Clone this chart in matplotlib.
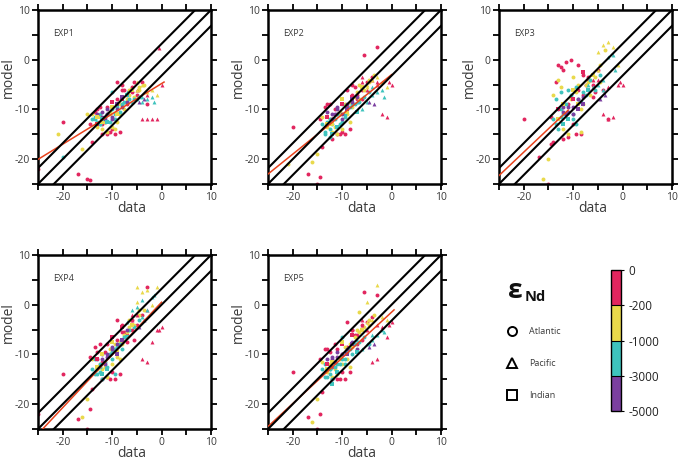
import numpy as np
import matplotlib
matplotlib.use("Agg")
import matplotlib.pyplot as plt
from matplotlib.colors import ListedColormap, BoundaryNorm
from matplotlib.colorbar import ColorbarBase

plt.rcParams['font.family'] = ['Open Sans', 'DejaVu Sans']
plt.rcParams['axes.unicode_minus'] = False

# shared observations (x axis), water-depth class and basin for every point
data_x = [-14, -13.5, -13, -12.5, -12, -13, -12, -11, -10, -14,
          -13, -12, -11, -10, -9, -14.5, -13.5, -12.5, -11.5, -10.5,
          -9.5, -8.5, -11, -10, -9, -8, -7, -6, -8, -7,
          -12, -11, -10, -9, -8, -10, -9, -8, -7, -6,
          -13, -12, -6, -5, -4, -3, -2, -1, -5, -4,
          -3, -2, -5, -4, -3, -2, -4.5, -3.5, -6, -7,
          -0.5, 0, -1, -1.5, -25, -20, -17, -15, -14.5, -21,
          -20, -16, -15, -14, -12, -11, -9, -8, -10, -13,
          -7.5, -6.5, -5.5, -4.5, -11.5, -12.5, -9.5, -8.5, -10.5, -3,
          -13, -12, -11, -10, -9, -8, -7, -6, -5, -4,
          -12.5, -11.5, -10.5, -9.5, -8.5, -7.5, -6.5, -5.5, -4.5, -3.5,
          -13.5, -12.5, -11.5, -10.5, -9.5, -8.5, -7.5, -6.5, -5.5, -4.5,
          -12, -11, -10, -9, -8, -7, -6, -5, -4, -3]
depth = list("cccccppppy" "yyyyyrrrrr" "rrccccrryy" "ccyyrrppcy"
             "ryrrrrrryy" "yyccccppcc" "rrycrrrrry" "cyyrrrrrcy"
             "ryrypccyyr" "rrrrrrrrrr" "yyyyyyyyyy" "cccccccccc"
             "pppppprycr")
basin = (['o'] * 30 + ['s'] * 12 + ['^'] * 22 + ['o'] * 15 + ['s']
         + ['o'] * 46 + ['^'] * 4)

nan = np.nan
exp1 = [-12, -11.5, -12.5, -11, -12, -11, -10.5, -10, -11.5, -11,
        -13.5, -14, -14.5, -13.5, -12.5, -13, -10.5, -9.5, -12.5, -14.5,
        -15, -14.5, -11, -10, -9.5, -9, -7, -6.5, -9, -8,
        -12, -12.5, -9.5, -11, -8, -8.5, -9, -7.5, -7, -6,
        -13, -12.5, -5.5, -6, -12, -12, -12, -12, -6, -5,
        -6.5, -6, -8, -8.5, -8, -7.5, -8.5, -8, -8.5, -6.5,
        2.3, -5, -7, -8.5, -22, -12.5, -23, -24, -24.2, -15,
        -19.5, -18, -11, -16.5, -15, -15, -4.5, -5, -6.5, -11.5,
        -6, -7, -4.5, -5.5, -12, -13, -12, -11, -11, -9,
        -10, -13, -9.5, -14, -8, -6, -9, -5.5, -7, -4.5,
        -11.5, -12.5, -10.5, -14, -9, -10, -6, -7.5, -6, -5,
        -12, -13, -11.5, -12.5, -11, -10.5, -8.5, -8, -8, -7.5,
        -11.5, -11, -12, -10, -9.5, -8.5, -6, -4.5, -7.5, -7]
exp2 = [-13, -14.5, -12.5, -15.5, -13, -10.5, -11, -9.5, -12, -11.5,
        -13.5, -14.5, -15, -14, -11, -12, -9.5, -9, -10, -15,
        -15, -14, -11, -12.5, -10, -9, -7, -8, -9.5, -6.5,
        -15, -13.5, -8, -10.5, -7.5, -9, -10, -8, -10.5, -5.5,
        -11.5, -13, -4.5, -6, -4, -5, -11, -11.5, -5, -4,
        -3.5, -4.5, -8.5, -7, -6.5, -6, -8.5, -9, -10, -8.5,
        -4.5, -5, -5.5, -7.5, -24.5, -13.5, -23, -25, -23.5, -21,
        nan, -20.5, -19, -17.5, -16, -15, -6, -7, -9, -13,
        -5.5, -8, 1, -4.5, -11, -12, -11, -12.5, -10.5, 2.5,
        -9, -12, -11, -14.5, -9.5, -5, -8, -6, -4.5, -3.5,
        -12, -13.5, -11, -9, -8.5, -7.5, -5, -6, -4, -3,
        -15, -14, -12, -13, -11.5, -9.5, -9, -8.5, -7.5, -6.5,
        -12, -10, -11, -9, -8.5, -7.5, -3.5, -5.5, -5.5, -4.5]
exp3 = [-12, -8, -14, -6.5, -11, -10, -9.5, -10.5, -9.5, -7,
        -4, -14, -15, -3.5, -5, -11.5, -4.5, -1.5, -0.5, 0,
        -15, -15, -6, -12, -8, -6.5, -3.5, -7.5, -9, -4.5,
        -13, -12, -6, -9, -2.5, -8, -10, -9, -6, -3,
        -10, -9, -5.5, -4, -11, -12, -11.5, -5, 1.5, 3,
        3.5, 2.5, -5, -6, 0.5, 1, -8, -7, -5.5, -5,
        -4.5, -5, -1, -2, nan, -12, -19.5, -25, -17, nan,
        nan, -24, -20, -16.5, -16, -15.5, -1, -3, -11, -12,
        -5, -4, -6.5, -1, -11, -10, -13, -14.5, -7.5, -12,
        -1, -2, -9, -13, -6, -7, -4, -5, -2, -6,
        -5.5, -11, -8, -6.5, -10, -5, -7, -3.5, -4.5, 2,
        -13, -11.5, -9, -7, -5.5, -8.5, -7, -4, -6, -3,
        -10.5, -9.5, -11, -8, -7.5, -6, -4, -2, -4, -5.5]
exp4 = [-13, -11, -14, -12, -15, -11, -10, -10.5, -9, -11,
        -13, -13, -14.5, -12, -10.5, -10.5, -8.5, -8, -9.5, -15,
        -15, -14, -12.5, -11, -8.5, -9, -6, -5, -8, -5.5,
        -14, -13, -7.5, -9.5, -4.5, -6.5, -10, -7, -6.5, -4,
        -11, -10, -3, -2, -11, -11.5, -7.5, -5, 3.5, 2.5,
        3, 0, -0.5, 1, -1, 1.5, -4.5, -3, -1, -3.5,
        -5, -4.5, 3.5, 2, -22, -14, -23, -25, -21, nan,
        nan, -22.5, -19, -17, -15, -14.5, -3, -4, -9.5, -12.5,
        -5.5, -3, -7, -1, -12, -12.5, -14, -11, -9, 3.5,
        -9.5, -11.5, -8, -13.5, -7, -5.5, -7.5, -3, -4, -2,
        -12, -12.5, -10, -8, -7.5, -6, -4.5, -4, -2, -1,
        -14, -13.5, -11.5, -10, -9, -8, -6.5, -5, -4.5, -3,
        -11, -10, -8.5, -8, -7, -5, -2, 0.5, -2.5, -1]
exp5 = [-13, -12, -14.5, -13, -15, -11, -10.5, -9.5, -10, -11.5,
        -13.5, -14.5, -14, -12, -11, -11, -9, -9.5, -8, -15,
        -15, -13.5, -12, -11, -9.5, -10, -6, -7, -8.5, -5,
        -16, -13.5, -7.5, -10, -6, -8, -10, -8, -9.5, -5,
        -12, -11.5, -4, -5, -11.5, -11, -4.5, -6.5, 0.5, -3,
        4, -2.5, -8, -7, -6, -5, -8.5, -8, -9, -7,
        -4, -3.5, -3, -5.5, nan, -13.5, -22.5, -25, -22, nan,
        nan, -23.5, -19, -17.5, -15, -15, -3.5, -5, -6.5, -13,
        -6, -1.5, 2.5, -4, -11.5, -13, -12, -12.5, -10.5, 2,
        -9, -12.5, -9, -13.5, -8.5, -5, -8, -4, -3.5, -2.5,
        -12, -13, -11, -8.5, -8, -6.5, -5.5, -4.5, -3, -2,
        -14.5, -14, -12.5, -12, -11, -9, -8, -7.5, -6.5, -8,
        -11, -10.5, -10, -9, -7.5, -9, -3, -3.5, -6, -4]

exp_names = ['EXP1', 'EXP2', 'EXP3', 'EXP4', 'EXP5']
model_vals = [exp1, exp2, exp3, exp4, exp5]
# red regression lines
fit_slope = [0.61, 0.80, 0.94, 1.06, 0.92]
fit_icept = [-4.8, -3.0, 0.2, 0.5, -1.5]
fit_x0 = [-25, -25, -25, -24, -25]
fit_x1 = [0.5, 0, -11, 0, 0.5]
band = [-3.2, 0, 3.2]

depth_colors = {'r': '#e2265f', 'y': '#e9d94b', 'c': '#3ec3bd', 'p': '#7b3fa0'}
cbar_labels = ['-5000', '-3000', '-1000', '-200', '0']
basin_labels = ['Atlantic', 'Pacific', 'Indian']
basin_markers = ['o', '^', 's']

W, H = 681, 466
fig = plt.figure(figsize=(W / 100, H / 100), dpi=100)
boxes = [(38, 10), (268, 10), (499, 10), (38, 255), (268, 255)]
gray = '#3a3a3a'

x_arr = np.array(data_x)
for k in range(5):
    left, top = boxes[k]
    ax = fig.add_axes([left / W, 1 - (top + 174) / H, 173 / W, 174 / H])
    y_arr = np.array(model_vals[k], dtype=float)
    for mk in basin_markers:
        for ck, col in depth_colors.items():
            sel = np.array([(b == mk and d == ck) for b, d in zip(basin, depth)])
            if sel.any():
                ax.scatter(x_arr[sel], y_arr[sel], s=8, marker=mk, color=col,
                           linewidths=0, zorder=2)
    xx = np.array([fit_x0[k], fit_x1[k]])
    ax.plot(xx, fit_slope[k] * xx + fit_icept[k], color='#e8421c', lw=1.1, zorder=3)
    line = np.array([-30, 15])
    for off in band:
        ax.plot(line, line + off, color='black', lw=1.5, zorder=4)
    ax.set_xlim(-25, 10)
    ax.set_ylim(-25, 10)
    ax.set_xticks([-20, -10, 0, 10])
    ax.set_yticks([-20, -10, 0, 10])
    ax.set_xticks(np.arange(-25, 11, 5), minor=True)
    ax.set_yticks(np.arange(-25, 11, 5), minor=True)
    ax.tick_params(which='both', direction='out', length=4, width=1.3,
                   top=True, right=True, labelsize=7.5, labelcolor=gray, pad=2)
    for sp in ax.spines.values():
        sp.set_linewidth(1.8)
    ax.set_xlabel('data', fontsize=10, color=gray)
    ax.set_ylabel('model', fontsize=10, color=gray)
    ax.xaxis.set_label_coords(0.54, -0.095)
    ax.yaxis.set_label_coords(-0.13, 0.61)
    ax.text(0.087, 0.865, exp_names[k], transform=ax.transAxes, fontsize=6.5,
            color=gray, ha='left', va='center')

# colour bar for water depth
cax = fig.add_axes([611 / W, 1 - 411 / H, 10 / W, 141 / H])
cmap = ListedColormap([depth_colors['p'], depth_colors['c'], depth_colors['y'], depth_colors['r']])
norm = BoundaryNorm([0, 1, 2, 3, 4], cmap.N)
cb = ColorbarBase(cax, cmap=cmap, norm=norm, orientation='vertical', drawedges=True)
cb.set_ticks([0, 1, 2, 3, 4])
cb.set_ticklabels(cbar_labels)
cb.outline.set_linewidth(1.0)
cb.dividers.set_linewidth(0.8)
cax.tick_params(length=2.5, width=0.8, labelsize=8.5, labelcolor='#222222', pad=3)

# basin legend drawn in pixel space
lax = fig.add_axes([0, 0, 1, 1])
lax.set_xlim(0, W)
lax.set_ylim(H, 0)
lax.axis('off')
lax.text(508, 290, 'ε', fontsize=19, fontweight='bold', color='#111111',
         ha='left', va='center')
lax.text(525, 297, 'Nd', fontsize=10.5, fontweight='bold', color='#111111',
         ha='left', va='center')
for i, (lab, mk) in enumerate(zip(basin_labels, basin_markers)):
    yy = 331 + 32 * i
    lax.plot([512], [yy], marker=mk, markersize=6.5, markerfacecolor='white',
             markeredgecolor='black', markeredgewidth=1.4, linestyle='none')
    lax.text(529, yy, lab, fontsize=6.5, color=gray, ha='left', va='center')

fig.savefig('out.png', dpi=100)
